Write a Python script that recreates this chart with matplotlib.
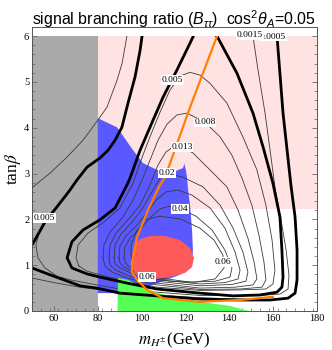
import numpy as np
import matplotlib
matplotlib.use("Agg")
import matplotlib.pyplot as plt
from matplotlib.patches import Polygon, Rectangle

plt.rcParams['mathtext.fontset'] = 'custom'
plt.rcParams['mathtext.rm'] = 'Liberation Sans'
plt.rcParams['mathtext.it'] = 'Liberation Sans:italic'

# ---------------- data (m_H+ [GeV], tan beta) ----------------
gray_x = [50, 80]
pink_x = [80, 180]
pink_t = [2.23, 6.0]

blue_m = [80, 88.8, 96.1, 100.6, 107.0, 115.2, 118.9, 119.5, 120.3, 120.7, 121.2, 122.1, 123.0, 123.4, 123.0, 117.5, 108.4, 99.3, 89.2, 80.0]
blue_t = [4.21, 4.01, 3.51, 3.23, 3.08, 3.05, 3.12, 3.22, 3.05, 2.92, 2.64, 2.31, 1.77, 1.33, 1.0, 0.79, 0.63, 0.46, 0.39, 0.39]

red_m = [95.6, 96.5, 99.3, 103.8, 110.7, 117.5, 122.1, 123.9, 123.0, 119.8, 112.9, 106.1, 99.3, 96.5, 95.6]
red_t = [1.22, 1.44, 1.57, 1.64, 1.64, 1.55, 1.37, 1.16, 0.96, 0.83, 0.74, 0.70, 0.70, 0.85, 1.03]

green_m = [89.0, 89.2, 93.8, 99.3, 106.1, 112.9, 122.1, 131.2, 140.3, 147.1, 149.4]
green_t = [0.0, 0.72, 0.68, 0.55, 0.41, 0.33, 0.24, 0.17, 0.11, 0.02, 0.0]

orange_m = [134.4, 122.1, 110.7, 108.4, 102.9, 97.9, 95.6, 95.6, 97.9, 102.5, 109.8, 126.6, 144.9, 159.9]
orange_t = [6.0, 4.45, 2.92, 2.75, 2.20, 1.61, 1.05, 0.85, 0.68, 0.46, 0.28, 0.20, 0.24, 0.31]

# thick curves
t1_m = [100.2, 99.3, 97.0, 93.8, 91.0, 87.9, 84.7, 81.0, 75.1, 70.5, 67.3, 62.8, 55.9, 50.5, 50.0]
t1_t = [6.0, 5.69, 5.11, 4.54, 4.01, 3.73, 3.51, 3.34, 3.14, 2.86, 2.64, 2.36, 1.94, 1.48, 1.44]

t2_m = [124.3, 122.1, 116.1, 109.8, 103.8, 99.3, 94.7, 93.3, 87.9, 81.0, 73.3, 68.2, 66.0, 68.2, 75.1, 81.0, 93.3, 107.0, 126.6, 141.7, 154.0, 161.7, 164.0, 164.5, 164.0, 163.1, 159.9, 155.4, 150.8, 143.5, 134.4, 131.2, 124.3]
t2_t = [6.07, 5.85, 5.26, 4.67, 4.01, 3.51, 2.90, 2.75, 2.25, 1.99, 1.77, 1.51, 1.16, 0.94, 0.81, 0.74, 0.61, 0.48, 0.39, 0.33, 0.35, 0.41, 0.52, 0.74, 1.33, 2.05, 2.79, 3.58, 4.32, 5.19, 6.0, 6.11, 6.07]

t3_m = [50.0, 58.2, 71.9, 79.6, 90.1, 107.0, 126.6, 144.9, 158.6, 166.8, 170.0, 170.9, 170.9, 170.0, 168.1, 164.5, 161.8, 161.3]
t3_t = [0.94, 0.79, 0.55, 0.50, 0.39, 0.33, 0.26, 0.24, 0.24, 0.28, 0.39, 0.68, 1.33, 2.05, 2.75, 4.32, 5.98, 6.07]

# thin contour curves of the branching ratio
c0005_m = [161.8, 164.5, 168.1, 170.0, 170.9, 170.9, 170.0, 166.8, 158.6, 144.9, 126.6, 107.0, 90.1, 79.6, 71.9, 60.0, 50.0]
c0005_t = [5.98, 4.32, 2.75, 2.05, 1.33, 0.68, 0.39, 0.28, 0.25, 0.26, 0.29, 0.35, 0.42, 0.47, 0.52, 0.62, 0.72]

c0015_m = [150.8, 153.1, 156.3, 158.6, 160.8, 163.6, 165.9, 167.2, 166.8, 163.1, 154.0, 126.6, 107.0, 90.1, 79.6, 67.3, 61.4, 55.9, 52.7, 51.8, 53.6, 55.9, 59.1, 62.8]
c0015_t = [6.0, 5.26, 4.32, 3.51, 2.71, 1.99, 1.33, 0.79, 0.48, 0.37, 0.34, 0.34, 0.41, 0.48, 0.57, 0.68, 0.76, 0.94, 1.16, 1.44, 1.77, 1.99, 2.16, 2.36]

ctl_m = [93.3, 91.1, 88.8, 84.2, 80.1, 73.3, 66.0, 58.2, 50.5, 50.0]
ctl_t = [6.0, 5.41, 5.04, 4.45, 4.17, 3.73, 3.36, 3.01, 2.71, 2.69]

c005_m = [71.4, 70.1, 71.0, 75.5, 82.8, 90.1, 96.1, 99.7, 103.8, 108.4, 112.9, 117.5, 122.1, 126.6, 131.2, 138.9, 146.2, 152.6, 156.7, 159.5, 160.8, 159.9, 156.7, 144.9, 126.6, 107.0, 93.3, 81.0, 75.1, 71.4]
c005_t = [0.98, 1.16, 1.44, 1.70, 1.94, 2.25, 2.79, 3.29, 3.80, 4.34, 4.82, 5.13, 5.21, 5.15, 4.97, 4.54, 3.80, 3.08, 2.31, 1.55, 0.89, 0.59, 0.48, 0.46, 0.45, 0.52, 0.65, 0.79, 0.87, 0.98]

c008_m = [82.4, 82.8, 85.6, 91.1, 96.1, 100.2, 103.8, 107.5, 111.6, 116.1, 120.7, 128.9, 135.8, 141.2, 145.8, 150.3, 153.5, 155.8, 156.7, 154.9, 144.9, 126.6, 107.0, 94.7, 86.5, 83.3, 82.4]
c008_t = [1.16, 1.44, 1.72, 2.03, 2.42, 2.86, 3.29, 3.73, 4.08, 4.28, 4.32, 4.12, 3.80, 3.40, 2.90, 2.31, 1.66, 1.07, 0.68, 0.52, 0.48, 0.47, 0.57, 0.70, 0.85, 0.98, 1.16]

c013_m = [85.1, 85.6, 88.3, 93.8, 99.3, 103.8, 107.5, 111.1, 114.8, 118.4, 123.4, 131.2, 138.9, 144.0, 148.5, 151.3, 152.6, 150.8, 142.6, 126.6, 107.0, 95.6, 88.3, 85.6, 85.1]
c013_t = [1.16, 1.44, 1.70, 1.99, 2.31, 2.75, 3.19, 3.47, 3.60, 3.58, 3.45, 3.08, 2.71, 2.20, 1.59, 1.07, 0.70, 0.57, 0.52, 0.50, 0.61, 0.74, 0.89, 1.00, 1.16]

c02_m = [87.4, 87.9, 90.6, 95.6, 100.6, 104.7, 108.4, 111.6, 118.9, 128.0, 135.8, 141.7, 146.2, 148.5, 147.6, 141.2, 126.6, 107.0, 97.0, 90.1, 87.9, 87.4]
c02_t = [1.16, 1.44, 1.68, 1.94, 2.25, 2.60, 2.90, 3.01, 2.92, 2.71, 2.31, 1.81, 1.29, 0.85, 0.65, 0.58, 0.55, 0.65, 0.79, 0.94, 1.03, 1.16]

c03_m = [89.7, 90.1, 92.9, 97.4, 102.0, 106.6, 111.1, 116.6, 123.0, 131.2, 138.0, 142.6, 144.9, 144.0, 138.0, 126.6, 108.4, 98.4, 92.0, 90.1, 89.7]
c03_t = [1.16, 1.42, 1.64, 1.85, 2.12, 2.42, 2.60, 2.64, 2.53, 2.25, 1.81, 1.29, 0.89, 0.70, 0.62, 0.59, 0.68, 0.81, 0.96, 1.05, 1.16]

c04_m = [92.0, 92.4, 94.7, 99.3, 103.8, 108.4, 112.9, 117.5, 124.8, 132.1, 138.0, 141.2, 140.3, 133.5, 122.1, 108.4, 99.3, 93.8, 92.4, 92.0]
c04_t = [1.16, 1.40, 1.59, 1.79, 2.03, 2.23, 2.29, 2.23, 2.07, 1.77, 1.33, 0.94, 0.74, 0.65, 0.63, 0.72, 0.85, 0.98, 1.07, 1.16]

c06_m = [95.2, 96.1, 99.3, 103.8, 112.9, 124.3, 133.5, 137.6, 137.1, 133.0, 126.6, 117.5, 108.4, 101.5, 97.4, 95.2, 95.2]
c06_t = [1.22, 1.00, 0.81, 0.72, 0.65, 0.63, 0.70, 0.94, 1.22, 1.55, 1.81, 2.01, 2.07, 1.99, 1.72, 1.44, 1.22]

label_text = ["0.0005", "0.0015", "0.005", "0.008", "0.013", "0.02", "0.04", "0.06", "0.06", "0.005"]
label_m = [160.0, 149.4, 114.0, 128.9, 118.4, 111.6, 117.5, 102.5, 137.1, 55.6]
label_t = [5.99, 6.02, 5.04, 4.12, 3.58, 3.01, 2.23, 0.74, 1.07, 2.03]

xticks = [60, 80, 100, 120, 140, 160, 180]
yticks = [0, 1, 2, 3, 4, 5, 6]

# ---------------- figure ----------------
fig = plt.figure(figsize=(3.32, 3.50), dpi=100)
ax = fig.add_axes([32/332, 1-311/350, 285/332, 284/350])
ax.set_xlim(50, 180)
ax.set_ylim(0, 6.2)

ax.add_patch(Rectangle((gray_x[0], 0), gray_x[1]-gray_x[0], 6.0, facecolor='#aaaaaa', edgecolor='none', zorder=1))
ax.add_patch(Rectangle((pink_x[0], pink_t[0]), pink_x[1]-pink_x[0], pink_t[1]-pink_t[0], facecolor='#ffe2e2', edgecolor='none', zorder=1))
ax.add_patch(Polygon(np.column_stack([blue_m, blue_t]), closed=True, facecolor='#5959ff', edgecolor='none', zorder=2))

thin = [(c0005_m, c0005_t), (c0015_m, c0015_t), (ctl_m, ctl_t), (c005_m, c005_t), (c008_m, c008_t),
        (c013_m, c013_t), (c02_m, c02_t), (c03_m, c03_t), (c04_m, c04_t), (c06_m, c06_t)]
for xm, yt in thin:
    ax.plot(xm, yt, color='#3a3a3a', lw=0.6, zorder=3)

ax.add_patch(Polygon(np.column_stack([red_m, red_t]), closed=True, facecolor='#ff5a5a', edgecolor='none', zorder=4))
ax.add_patch(Polygon(np.column_stack([green_m, green_t]), closed=True, facecolor='#55ff55', edgecolor='none', zorder=4))

for xm, yt in [(t1_m, t1_t), (t2_m, t2_t), (t3_m, t3_t)]:
    ax.plot(xm, yt, color='black', lw=2.0, zorder=5, solid_joinstyle='round')
ax.plot(orange_m, orange_t, color='#ff8000', lw=1.6, zorder=6)

# white strip above tan beta = 6
ax.add_patch(Rectangle((50, 6.0), 130, 0.3, facecolor='white', edgecolor='none', zorder=7))

for s, xm, yt in zip(label_text, label_m, label_t):
    ax.text(xm, yt, s, ha='center', va='center', fontsize=6.8, family='Liberation Serif', zorder=9,
            bbox=dict(boxstyle='square,pad=0.08', facecolor='white', edgecolor='none'), clip_on=True)

ax.set_xticks(xticks)
ax.set_yticks(yticks)
ax.set_xticklabels([str(v) for v in xticks], family='Liberation Serif', fontsize=7.5)
ax.set_yticklabels([str(v) for v in yticks], family='Liberation Serif', fontsize=7.5)
ax.set_xticks(np.arange(50, 181, 4), minor=True)
ax.set_yticks(np.arange(0, 6.21, 0.2), minor=True)
ax.tick_params(which='both', direction='in', top=True, right=True, color='#666666')
ax.tick_params(which='major', length=3.5, width=0.6, pad=2)
ax.tick_params(which='minor', length=2, width=0.5)
for sp in ax.spines.values():
    sp.set_linewidth(0.7)
    sp.set_color('#555555')
    sp.set_zorder(10)

ax.set_xlabel(r'$m_{H^{\pm}}$(GeV)', family='Liberation Serif', fontsize=12, math_fontfamily='stix', labelpad=6)
ax.set_ylabel(r'tan$\beta$', family='Liberation Serif', fontsize=12.5, math_fontfamily='stix', labelpad=1)
fig.text(0.524, 0.944, r'signal branching ratio $(B_{\tau\tau})$  cos$^2\theta_A$=0.05', ha='center', va='center',
         family='Liberation Sans', fontsize=11.4)

fig.savefig('out.png', dpi=100)
